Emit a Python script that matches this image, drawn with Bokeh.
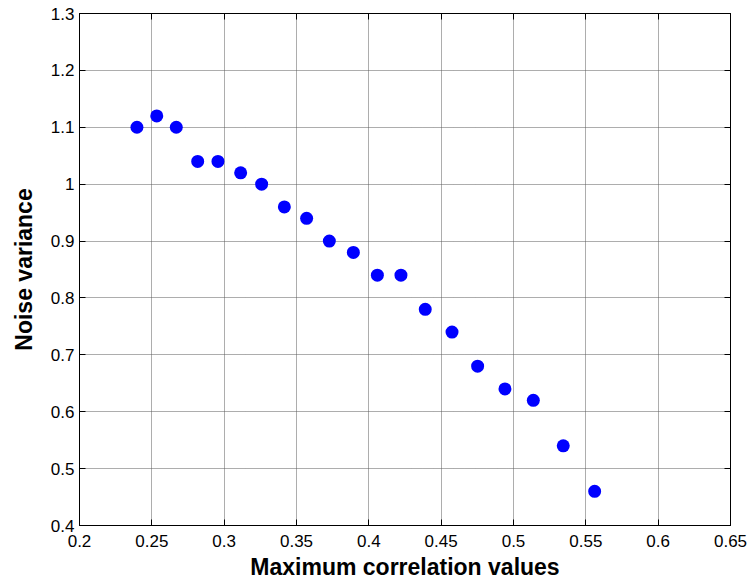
from bokeh.plotting import figure
from bokeh.models import (LinearAxis, FixedTicker, CustomJSTickFormatter,
                          Range1d, ColumnDataSource)
from bokeh.embed import file_html
from bokeh.resources import INLINE

# Measured pairs: maximum correlation vs. noise variance
max_correlation = [0.2397, 0.2534, 0.2669, 0.2817, 0.2957, 0.3114, 0.3259,
                   0.3416, 0.3570, 0.3727, 0.3893, 0.4059, 0.4222, 0.4390,
                   0.4575, 0.4752, 0.4941, 0.5137, 0.5344, 0.5561]
noise_variance = [1.10, 1.12, 1.10, 1.04, 1.04, 1.02, 1.00, 0.96, 0.94, 0.90,
                  0.88, 0.84, 0.84, 0.78, 0.74, 0.68, 0.64, 0.62, 0.54, 0.46]

x_ticks = [0.2, 0.25, 0.3, 0.35, 0.4, 0.45, 0.5, 0.55, 0.6, 0.65]
y_ticks = [0.4, 0.5, 0.6, 0.7, 0.8, 0.9, 1.0, 1.1, 1.2, 1.3]

FONT = "Liberation Sans"

src = ColumnDataSource(data=dict(x=max_correlation, y=noise_variance))

p = figure(width=753, height=587, output_backend="svg", toolbar_location=None,
           x_range=Range1d(0.2, 0.65), y_range=Range1d(0.4, 1.3),
           x_axis_label="Maximum correlation values",
           y_axis_label="Noise variance")
p.min_border_left = 79
p.min_border_right = 23
p.min_border_top = 13
p.min_border_bottom = 62
p.background_fill_color = "white"
p.border_fill_color = "white"
p.outline_line_color = "black"
p.outline_line_width = 1
p.outline_line_alpha = 1.0

fmt = CustomJSTickFormatter(code="return String(parseFloat(tick.toFixed(2)));")

p.xaxis.ticker = FixedTicker(ticks=x_ticks)
p.yaxis.ticker = FixedTicker(ticks=y_ticks)
p.xaxis.formatter = fmt
p.yaxis.formatter = fmt

for ax in (p.xaxis[0], p.yaxis[0]):
    ax.major_tick_in = 6
    ax.major_tick_out = 0
    ax.minor_tick_in = 0
    ax.minor_tick_out = 0
    ax.axis_line_color = "black"
    ax.major_tick_line_color = "black"
    ax.major_label_text_font = FONT
    ax.major_label_text_font_size = "17px"
    ax.major_label_text_color = "black"
    ax.axis_label_text_font = FONT
    ax.axis_label_text_font_size = "23px"
    ax.axis_label_text_font_style = "bold"
    ax.axis_label_text_color = "black"

p.xaxis.major_label_standoff = 9
p.xaxis.axis_label_standoff = 4
p.yaxis.major_label_standoff = 5
p.yaxis.axis_label_standoff = 11


def mirror_axis(ticks):
    """Tick-only axis for the top and right edges of the box."""
    ax = LinearAxis(ticker=FixedTicker(ticks=ticks),
                    major_tick_in=6, major_tick_out=0,
                    minor_tick_in=0, minor_tick_out=0,
                    axis_line_color="black", major_tick_line_color="black",
                    major_label_standoff=0)
    ax.major_label_overrides = {t: "" for t in ticks}
    return ax


p.add_layout(mirror_axis(x_ticks), "above")
p.add_layout(mirror_axis(y_ticks), "right")

for g in (p.xgrid[0], p.ygrid[0]):
    g.grid_line_color = "#5a5a5a"
    g.grid_line_dash = "1 1"
    g.grid_line_width = 1
    g.grid_line_alpha = 1.0

p.scatter("x", "y", source=src, marker="circle", size=13,
          fill_color="#0000ff", line_color="#0000ff", line_width=0)

open("out.html", "w").write(file_html(p, INLINE))
